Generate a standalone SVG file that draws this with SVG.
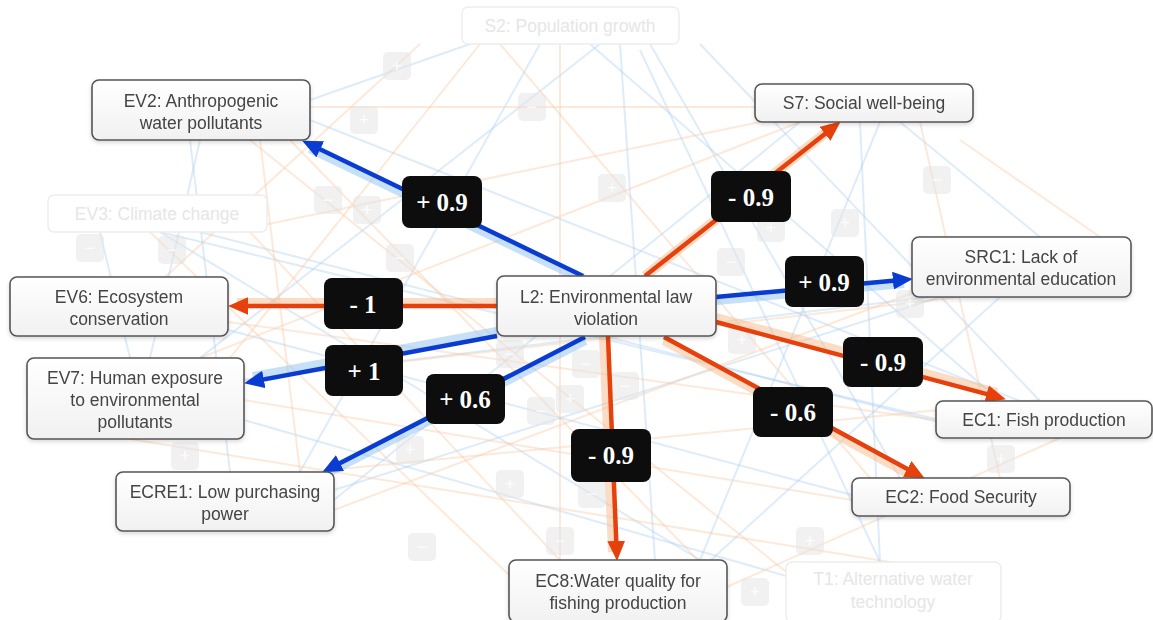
<svg xmlns="http://www.w3.org/2000/svg" width="1153" height="620" viewBox="0 0 1153 620">
<defs>
<style>
.node rect{fill:url(#ng);stroke:#555;stroke-width:1.6}
.node text{font-family:"Liberation Sans",Arial,sans-serif;font-size:17.5px;fill:#444;text-anchor:middle}
.fnode rect{fill:#fff;stroke:#ededed;stroke-width:1.4}
.fnode text{font-family:"Liberation Sans",Arial,sans-serif;font-size:17.5px;fill:#e6e6e6;text-anchor:middle}
.lbl rect{fill:#0d0d0d}
.lbl text{font-family:"Liberation Serif","Times New Roman",serif;font-weight:bold;font-size:25px;fill:#fff;text-anchor:middle}
.bgb{stroke:#a9cdf1;stroke-width:2;opacity:.38;fill:none}
.bgo{stroke:#f9c9a2;stroke-width:2;opacity:.4;fill:none}
.sq rect{fill:#e4e4e4;opacity:.5}
.sq text{font-family:"Liberation Sans",Arial,sans-serif;font-size:18px;fill:#fff;text-anchor:middle;opacity:.8}
.hb{stroke:#8ec2f2;stroke-width:10;opacity:.5;fill:none}
.ho{stroke:#f8b98a;stroke-width:10;opacity:.5;fill:none}
.eb{stroke:#0a3cd2;stroke-width:4.5;fill:none;marker-end:url(#ab)}
.eo{stroke:#e6410c;stroke-width:4.5;fill:none;marker-end:url(#ao)}
</style>
<linearGradient id="ng" x1="0" y1="0" x2="0" y2="1"><stop offset="0" stop-color="#ffffff"/><stop offset="1" stop-color="#f1f1f1"/></linearGradient>
<filter id="sh" x="-10%" y="-20%" width="120%" height="150%"><feDropShadow dx="0" dy="2" stdDeviation="2" flood-color="#000" flood-opacity="0.15"/></filter>
<marker id="ab" markerUnits="userSpaceOnUse" markerWidth="20" markerHeight="18" viewBox="0 0 18 16" refX="10" refY="8" orient="auto"><path d="M0,0 L18,8 L0,16 z" fill="#0a3cd2"/></marker>
<marker id="ao" markerUnits="userSpaceOnUse" markerWidth="20" markerHeight="18" viewBox="0 0 18 16" refX="10" refY="8" orient="auto"><path d="M0,0 L18,8 L0,16 z" fill="#e6410c"/></marker>
</defs>
<rect width="1153" height="620" fill="#fff"/>

<g id="background">
<line class="bgb" x1="600" y1="44" x2="200" y2="358"/>
<line class="bgb" x1="540" y1="44" x2="300" y2="472"/>
<line class="bgb" x1="650" y1="44" x2="900" y2="478"/>
<line class="bgb" x1="620" y1="44" x2="655" y2="560"/>
<line class="bgb" x1="590" y1="44" x2="1000" y2="401"/>
<line class="bgb" x1="640" y1="50" x2="880" y2="562"/>
<line class="bgb" x1="700" y1="44" x2="1040" y2="401"/>
<line class="bgb" x1="470" y1="44" x2="310" y2="100"/>
<line class="bgb" x1="200" y1="140" x2="150" y2="358"/>
<line class="bgb" x1="190" y1="140" x2="230" y2="472"/>
<line class="bgb" x1="160" y1="232" x2="940" y2="420"/>
<line class="bgb" x1="930" y1="297" x2="244" y2="380"/>
<line class="bgb" x1="800" y1="122" x2="334" y2="500"/>
<line class="bgb" x1="860" y1="122" x2="880" y2="562"/>
<line class="bgb" x1="880" y1="122" x2="700" y2="560"/>
<line class="bgb" x1="1000" y1="297" x2="700" y2="570"/>
<line class="bgb" x1="228" y1="330" x2="852" y2="495"/>
<line class="bgb" x1="1000" y1="438" x2="200" y2="232"/>
<line class="bgb" x1="244" y1="420" x2="800" y2="580"/>
<line class="bgb" x1="310" y1="120" x2="1020" y2="401"/>
<line class="bgb" x1="334" y1="490" x2="940" y2="297"/>
<line class="bgb" x1="900" y1="122" x2="1040" y2="237"/>
<line class="bgb" x1="160" y1="232" x2="700" y2="560"/>
<line class="bgb" x1="100" y1="232" x2="130" y2="358"/>
<line class="bgo" x1="300" y1="107" x2="755" y2="107"/>
<line class="bgo" x1="480" y1="44" x2="230" y2="358"/>
<line class="bgo" x1="250" y1="232" x2="560" y2="560"/>
<line class="bgo" x1="250" y1="140" x2="790" y2="575"/>
<line class="bgo" x1="334" y1="510" x2="920" y2="290"/>
<line class="bgo" x1="228" y1="322" x2="936" y2="420"/>
<line class="bgo" x1="244" y1="400" x2="852" y2="500"/>
<line class="bgo" x1="509" y1="575" x2="150" y2="232"/>
<line class="bgo" x1="800" y1="122" x2="200" y2="358"/>
<line class="bgo" x1="500" y1="44" x2="870" y2="478"/>
<line class="bgo" x1="260" y1="140" x2="300" y2="472"/>
<line class="bgo" x1="920" y1="122" x2="1000" y2="478"/>
<line class="bgo" x1="960" y1="140" x2="1100" y2="237"/>
<line class="bgo" x1="330" y1="470" x2="1040" y2="400"/>
<line class="bgo" x1="230" y1="232" x2="760" y2="122"/>
<line class="bgo" x1="560" y1="44" x2="560" y2="560"/>
<line class="bgo" x1="130" y1="439" x2="1001" y2="580"/>
<line class="bgo" x1="727" y1="590" x2="290" y2="140"/>
<line class="bgo" x1="1060" y1="438" x2="720" y2="590"/>
<line class="bgo" x1="244" y1="380" x2="960" y2="297"/>
<line class="bgo" x1="420" y1="44" x2="140" y2="300"/>
<g class="sq">
<rect x="383" y="52" width="28" height="28" rx="5"/><text x="397" y="72">+</text>
<rect x="518" y="93" width="28" height="28" rx="5"/><text x="532" y="113">−</text>
<rect x="350" y="106" width="28" height="28" rx="5"/><text x="364" y="126">+</text>
<rect x="598" y="174" width="28" height="28" rx="5"/><text x="612" y="194">+</text>
<rect x="314" y="186" width="28" height="28" rx="5"/><text x="328" y="206">−</text>
<rect x="353" y="196" width="28" height="28" rx="5"/><text x="367" y="216">+</text>
<rect x="923" y="166" width="28" height="28" rx="5"/><text x="937" y="186">−</text>
<rect x="831" y="209" width="28" height="28" rx="5"/><text x="845" y="229">+</text>
<rect x="757" y="214" width="28" height="28" rx="5"/><text x="771" y="234">+</text>
<rect x="717" y="248" width="28" height="28" rx="5"/><text x="731" y="268">−</text>
<rect x="386" y="244" width="28" height="28" rx="5"/><text x="400" y="264">−</text>
<rect x="76" y="234" width="28" height="28" rx="5"/><text x="90" y="254">−</text>
<rect x="158" y="236" width="28" height="28" rx="5"/><text x="172" y="256">−</text>
<rect x="896" y="290" width="28" height="28" rx="5"/><text x="910" y="310">+</text>
<rect x="496" y="340" width="28" height="28" rx="5"/><text x="510" y="360">−</text>
<rect x="572" y="350" width="28" height="28" rx="5"/><text x="586" y="370">−</text>
<rect x="728" y="326" width="28" height="28" rx="5"/><text x="742" y="346">+</text>
<rect x="527" y="397" width="28" height="28" rx="5"/><text x="541" y="417">−</text>
<rect x="556" y="385" width="28" height="28" rx="5"/><text x="570" y="405">+</text>
<rect x="611" y="372" width="28" height="28" rx="5"/><text x="625" y="392">−</text>
<rect x="171" y="442" width="28" height="28" rx="5"/><text x="185" y="462">+</text>
<rect x="396" y="436" width="28" height="28" rx="5"/><text x="410" y="456">+</text>
<rect x="496" y="470" width="28" height="28" rx="5"/><text x="510" y="490">+</text>
<rect x="546" y="527" width="28" height="28" rx="5"/><text x="560" y="547">−</text>
<rect x="408" y="533" width="28" height="28" rx="5"/><text x="422" y="553">−</text>
<rect x="741" y="578" width="28" height="28" rx="5"/><text x="755" y="598">+</text>
<rect x="796" y="527" width="28" height="28" rx="5"/><text x="810" y="547">+</text>
<rect x="987" y="445" width="28" height="28" rx="5"/><text x="1001" y="465">+</text>
<rect x="578" y="480" width="28" height="28" rx="5"/><text x="592" y="500">−</text>
</g>
</g>

<g id="faded-nodes">
<g id="S2" class="fnode"><rect x="462" y="7" width="217" height="37" rx="6"/><text x="570" y="32">S2: Population growth</text></g>
<g id="EV3" class="fnode"><rect x="48" y="195" width="219" height="37" rx="6"/><text x="157" y="220">EV3: Climate change</text></g>
<g id="T1" class="fnode"><rect x="786" y="562" width="215" height="60" rx="6"/><text x="893" y="585">T1: Alternative water</text><text x="893" y="608">technology</text></g>
</g>

<g id="connectors">
<line class="hb" x1="583" y1="279" x2="310" y2="148"/>
<line class="eb" x1="583" y1="276" x2="310.2" y2="144.5" stroke-width="5.5"/>
<line class="ho" x1="645" y1="276" x2="833" y2="127"/>
<line class="eo" x1="645" y1="276" x2="833.7" y2="127"/>
<line class="hb" x1="716" y1="300" x2="904" y2="283"/>
<line class="eb" x1="716" y1="297" x2="904" y2="279.7"/>
<line class="ho" x1="497" y1="303" x2="237" y2="303"/>
<line class="eo" x1="497" y1="306" x2="237" y2="306"/>
<line class="hb" x1="497" y1="332" x2="253" y2="377"/>
<line class="eb" x1="497" y1="336" x2="252.9" y2="381.5"/>
<line class="hb" x1="585" y1="340" x2="330" y2="471" stroke-width="7"/>
<line class="eb" x1="585" y1="337" x2="330.1" y2="468.3" stroke-width="3.2"/>
<line class="ho" x1="604" y1="336" x2="613" y2="552"/>
<line class="eo" x1="608" y1="336" x2="616.7" y2="552"/>
<line class="ho" x1="716" y1="318" x2="997" y2="393"/>
<line class="eo" x1="716" y1="322" x2="997.3" y2="396.9"/>
<line class="ho" x1="664" y1="340" x2="915" y2="477" stroke-width="7"/>
<line class="eo" x1="664" y1="337" x2="917" y2="474.2" stroke-width="3.5"/>
</g>

<g id="edge-labels">
<g class="lbl"><rect x="402" y="176" width="80" height="52" rx="8"/><text x="442" y="211">+ 0.9</text></g>
<g class="lbl"><rect x="711" y="171" width="80" height="51" rx="8"/><text x="751" y="206">- 0.9</text></g>
<g class="lbl"><rect x="785" y="256" width="79" height="51" rx="8"/><text x="824" y="291">+ 0.9</text></g>
<g class="lbl"><rect x="324" y="278" width="79" height="51" rx="8"/><text x="363" y="313">- 1</text></g>
<g class="lbl"><rect x="325" y="345" width="78" height="51" rx="8"/><text x="364" y="380">+ 1</text></g>
<g class="lbl"><rect x="426" y="374" width="79" height="50" rx="8"/><text x="465" y="408">+ 0.6</text></g>
<g class="lbl"><rect x="843" y="337" width="80" height="50" rx="8"/><text x="883" y="371">- 0.9</text></g>
<g class="lbl"><rect x="753" y="387" width="80" height="50" rx="8"/><text x="793" y="421">- 0.6</text></g>
<g class="lbl"><rect x="571" y="429" width="80" height="53" rx="8"/><text x="611" y="464">- 0.9</text></g>
</g>

<g id="nodes" filter="url(#sh)">
<g id="EV2" class="node"><rect x="92" y="80" width="218" height="60" rx="7"/><text x="201" y="107">EV2: Anthropogenic</text><text x="201" y="129">water pollutants</text></g>
<g id="S7" class="node"><rect x="755" y="84" width="218" height="38" rx="7"/><text x="864" y="109">S7: Social well-being</text></g>
<g id="SRC1" class="node"><rect x="912" y="237" width="219" height="60" rx="7"/><text x="1021" y="263">SRC1: Lack of</text><text x="1021" y="285">environmental education</text></g>
<g id="EV6" class="node"><rect x="10" y="277" width="218" height="59" rx="7"/><text x="119" y="303">EV6: Ecosystem</text><text x="119" y="325">conservation</text></g>
<g id="L2" class="node"><rect x="497" y="276" width="219" height="60" rx="7"/><text x="606" y="303">L2: Environmental law</text><text x="606" y="325">violation</text></g>
<g id="EV7" class="node"><rect x="27" y="358" width="217" height="81" rx="7"/><text x="135" y="384">EV7: Human exposure</text><text x="135" y="406">to environmental</text><text x="135" y="428">pollutants</text></g>
<g id="EC1" class="node"><rect x="936" y="401" width="216" height="37" rx="7"/><text x="1044" y="426">EC1: Fish production</text></g>
<g id="ECRE1" class="node"><rect x="116" y="472" width="218" height="59" rx="7"/><text x="225" y="498">ECRE1: Low purchasing</text><text x="225" y="520">power</text></g>
<g id="EC2" class="node"><rect x="852" y="478" width="218" height="38" rx="7"/><text x="961" y="503">EC2: Food Security</text></g>
<g id="EC8" class="node"><rect x="509" y="560" width="218" height="62" rx="7"/><text x="618" y="587">EC8:Water quality for</text><text x="618" y="609">fishing production</text></g>
</g>
</svg>
